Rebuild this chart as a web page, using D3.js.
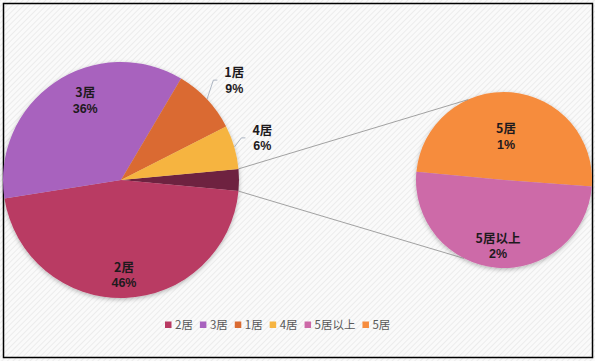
<!DOCTYPE html>
<html><head><meta charset="utf-8">
<script src="https://cdn.jsdelivr.net/npm/d3@7"></script>
<style>html,body{margin:0;padding:0;background:#fff}svg{display:block}</style>
</head><body><svg id="c" width="595" height="361"></svg>
<script>
// ---- data ----
const categories = ["2居","3居","1居","4居","5居以上","5居"];
const values     = [46, 36, 9, 6, 1.51, 1.49];
const secondaryCategories = ["5居","5居以上"];   // split out into the small pie
const mainOrder = ["其他","2居","3居","1居","4居"]; // clockwise from the "other" slice
const legendOrder = ["2居","3居","1居","4居","5居以上","5居"];

// ---- styles / layout ----
const colorMap = {"2居":"#B93A63","3居":"#A862BE","1居":"#DA6B32","4居":"#F6B440","5居以上":"#CD6AA8","5居":"#F68C3E","其他":"#6E2440"};
const W = 595, H = 361;
const main = {cx:121, cy:180, r:118};
const sec  = {cx:504, cy:180, r:88};
// label placement: radius fraction + angle shift (deg) relative to slice middle
const labelLayout = {
  "2居":{rf:0.805, da:0, inside:true},
  "3居":{rf:0.74, da:10, inside:true},
  "1居":{rf:1.28, da:1.8, inside:false},
  "4居":{rf:1.25, da:-0.4, inside:false},
  "5居":{rf:0.5, da:-2.2, inside:true},
  "5居以上":{rf:0.75, da:0.4, inside:true}
};

const val = Object.fromEntries(categories.map((c,i)=>[c,values[i]]));
const total = d3.sum(values);
const otherVal = d3.sum(secondaryCategories, c=>val[c]);
val["其他"] = otherVal;
const otherAngle = otherVal/total*2*Math.PI;

const svg = d3.select("#c");
const defs = svg.append("defs");
const pat = defs.append("pattern").attr("id","hatch").attr("patternUnits","userSpaceOnUse")
  .attr("width",4).attr("height",4).attr("patternTransform","rotate(45)");
pat.append("rect").attr("width",4).attr("height",4).attr("fill","#fafafa");
pat.append("rect").attr("width",1).attr("height",4).attr("fill","#ececec");
const f = defs.append("filter").attr("id","sh").attr("x","-20%").attr("y","-20%").attr("width","140%").attr("height","140%");
f.append("feDropShadow").attr("dx",0).attr("dy",1.5).attr("stdDeviation",2.2).attr("flood-color","#000").attr("flood-opacity",0.28);

svg.append("rect").attr("width",W).attr("height",H).attr("fill","url(#hatch)");
svg.append("rect").attr("x",3.5).attr("y",3.5).attr("width",589).attr("height",354)
  .attr("fill","none").attr("stroke","#000").attr("stroke-width",1.5);

const pt = (c, a, r) => [c.cx + r*Math.sin(a), c.cy - r*Math.cos(a)];

// ---- main pie ----
const mStart = Math.PI/2 - otherAngle/2;
const mainArcs = d3.pie().sort(null).value(d=>val[d])
  .startAngle(mStart).endAngle(mStart + 2*Math.PI)(mainOrder);
const arcM = d3.arc().innerRadius(0).outerRadius(main.r);
const gM = svg.append("g").attr("transform",`translate(${main.cx},${main.cy})`);
gM.append("g").attr("filter","url(#sh)").selectAll("path").data(mainArcs).join("path")
  .attr("d",arcM).attr("fill",d=>colorMap[d.data]);

// ---- secondary pie ----
const sStart = -Math.PI/2 + otherAngle/2;
const secArcs = d3.pie().sort(null).value(d=>val[d])
  .startAngle(sStart).endAngle(sStart + 2*Math.PI)(secondaryCategories);
const arcS = d3.arc().innerRadius(0).outerRadius(sec.r);
const gS = svg.append("g").attr("transform",`translate(${sec.cx},${sec.cy})`);
gS.append("g").attr("filter","url(#sh)").selectAll("path").data(secArcs).join("path")
  .attr("d",arcS).attr("fill",d=>colorMap[d.data]);

// ---- connector lines ----
const connAngle = 24*Math.PI/180; // secondary pie attach points
const m1 = pt(main, mStart, main.r), m2 = pt(main, mStart + otherAngle, main.r);
const s1 = pt(sec, -connAngle, sec.r), s2 = pt(sec, Math.PI + 27*Math.PI/180, sec.r);
svg.append("line").attr("x1",m1[0]).attr("y1",m1[1]).attr("x2",s1[0]).attr("y2",s1[1])
  .attr("stroke","#8c8c8c").attr("stroke-width",0.8);
svg.append("line").attr("x1",m2[0]).attr("y1",m2[1]).attr("x2",s2[0]).attr("y2",s2[1])
  .attr("stroke","#8c8c8c").attr("stroke-width",0.8);

// ---- labels ----
const fmt = v => Math.round(v/total*100) + "%";
const FONT = "'Noto Sans CJK SC','Microsoft YaHei',sans-serif";
const NUMFONT = "'Liberation Sans',Arial,sans-serif";
function drawLabel(center, d) {
  const name = d.data;
  if (!(name in labelLayout)) return;
  const L = labelLayout[name];
  const mid = (d.startAngle + d.endAngle)/2;
  const a = mid + L.da*Math.PI/180;
  const [x,y] = pt(center, a, center.r*L.rf);
  const g = svg.append("g").attr("font-size",12.5)
    .attr("font-weight","bold").attr("fill","#1e1a1d").attr("text-anchor","middle");
  g.append("text").attr("font-family",FONT).attr("x",x).attr("y",y-8.5).attr("dominant-baseline","central").text(name);
  g.append("text").attr("font-family",NUMFONT).attr("x",x).attr("y",y+8.5).attr("dominant-baseline","central").text(fmt(val[name]));
  if (!L.inside) {
    const bb = g.node().getBBox();
    const p0 = pt(center, mid, center.r);
    const p2 = [bb.x - 7, y];
    const p1 = [p2[0] - 4, y];
    svg.append("polyline").attr("points",[p0,p1,p2].map(p=>p.join(",")).join(" "))
      .attr("fill","none").attr("stroke","#9aa6b6").attr("stroke-width",0.8);
  }
}
mainArcs.forEach(d=>drawLabel(main,d));
secArcs.forEach(d=>drawLabel(sec,d));

// ---- legend ----
const lg = svg.append("g");
let lx = 165; const ly = 325;
legendOrder.forEach(c=>{
  lg.append("rect").attr("x",lx).attr("y",ly-3.5).attr("width",6.5).attr("height",6.5).attr("fill",colorMap[c]);
  const t = lg.append("text").attr("x",lx+10).attr("y",ly).attr("dy","0.35em")
    .attr("font-family",FONT).attr("font-size",11.5).attr("fill","#595959").text(c);
  lx += 10 + t.node().getComputedTextLength() + 7;
});
</script></body></html>
